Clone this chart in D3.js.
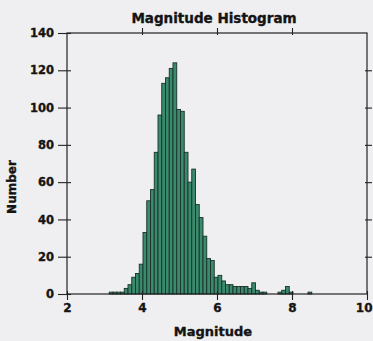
<!DOCTYPE html>
<html>
<head>
<meta charset="utf-8">
<script src="https://cdn.jsdelivr.net/npm/d3@7"></script>
<style>
  html, body { margin: 0; padding: 0; background: #efeff1; }
  svg { display: block; }
  text { font-family: "DejaVu Sans", sans-serif; font-weight: bold; fill: #141414; stroke: #141414; stroke-width: 0.35px; }
</style>
</head>
<body>
<svg id="chart" width="373" height="341"></svg>
<script>
// Bin starts (magnitude, bin width 0.1) and counts
const binStarts = [3.1,3.2,3.3,3.4,3.5,3.6,3.7,3.8,3.9,4.0,4.1,4.2,4.3,4.4,4.5,4.6,4.7,4.8,4.9,5.0,
                   5.1,5.2,5.3,5.4,5.5,5.6,5.7,5.8,5.9,6.0,6.1,6.2,6.3,6.4,6.5,6.6,6.7,6.8,6.9,7.0,
                   7.1,7.2,7.6,7.7,7.8,7.9,8.4];
const counts    = [1,1,1,1,3,5,9,11,16,33,50,56,76,96,113,116,121,124,99,98,
                   76,60,67,48,41,31,19,18,9,10,7,5,5,4,4,4,4,3,6,2,
                   1,1,1,2,4,1,1];
const binWidth = 0.1;
const xTicks = [2,4,6,8,10];
const yTicks = [0,20,40,60,80,100,120,140];
const title = "Magnitude Histogram";
const xLabel = "Magnitude";
const yLabel = "Number";

const svg = d3.select("#chart");
const mL = 67, mR = 367, mT = 33, mB = 294;
const x = d3.scaleLinear().domain([2,10]).range([mL, mR]);
const y = d3.scaleLinear().domain([0,140]).range([mB, mT]);

const data = binStarts.map((b,i) => ({b, c: counts[i]}));

// bars
svg.append("g").selectAll("rect").data(data).join("rect")
  .attr("x", d => x(d.b) + 1)
  .attr("y", d => y(d.c))
  .attr("width", d => x(d.b + binWidth) - x(d.b))
  .attr("height", d => y(0) - y(d.c))
  .attr("fill", "#3a8a6d")
  .attr("stroke", "#1a3129")
  .attr("stroke-width", 0.9);

const axisColor = "#222";
function styleAxis(g, inner, horizontal, sign) {
  g.select(".domain").remove();
  g.selectAll(".tick line").attr("stroke", axisColor).attr("stroke-width", 1.1);
  if (horizontal) g.selectAll(".tick line").attr("y1", sign * inner);
  else g.selectAll(".tick line").attr("x1", sign * inner);
}

// left axis
const gl = svg.append("g").attr("transform", `translate(${mL},0)`)
  .call(d3.axisLeft(y).tickValues(yTicks).tickSize(9).tickPadding(4));
styleAxis(gl, 4, false, 1);
gl.selectAll(".tick text").attr("font-size", 11.5).attr("font-family", "DejaVu Sans").attr("font-weight", "bold").attr("fill", "#141414");

// right axis
const gr = svg.append("g").attr("transform", `translate(${mR},0)`)
  .call(d3.axisRight(y).tickValues(yTicks.slice(1, -1)).tickSize(5).tickFormat(""));
styleAxis(gr, 2, false, -1);

// bottom axis
const gb = svg.append("g").attr("transform", `translate(0,${mB})`)
  .call(d3.axisBottom(x).tickValues(xTicks).tickSize(6).tickPadding(3));
styleAxis(gb, 3, true, -1);
gb.selectAll(".tick text").attr("font-size", 12).attr("font-family", "DejaVu Sans").attr("font-weight", "bold").attr("fill", "#141414");
// keep the last label inside the picture
gb.selectAll(".tick text").filter(d => d === 10).attr("text-anchor", "end").attr("x", 5);

// top axis
const gt = svg.append("g").attr("transform", `translate(0,${mT})`)
  .call(d3.axisTop(x).tickValues(xTicks.slice(1, -1)).tickSize(5).tickFormat(""));
styleAxis(gt, 2, true, 1);

// frame
svg.append("rect").attr("x", mL).attr("y", mT)
  .attr("width", mR - mL).attr("height", mB - mT)
  .attr("fill", "none").attr("stroke", axisColor).attr("stroke-width", 1.2);

// titles
svg.append("text").attr("x", (mL + mR) / 2 - 3).attr("y", 23)
  .attr("text-anchor", "middle").attr("font-size", 13.5).text(title);
svg.append("text").attr("x", (mL + mR) / 2 - 4).attr("y", 336)
  .attr("text-anchor", "middle").attr("font-size", 13).text(xLabel);
svg.append("text").attr("transform", "translate(16,187) rotate(-90)")
  .attr("text-anchor", "middle").attr("font-size", 12).text(yLabel);
</script>
</body>
</html>
